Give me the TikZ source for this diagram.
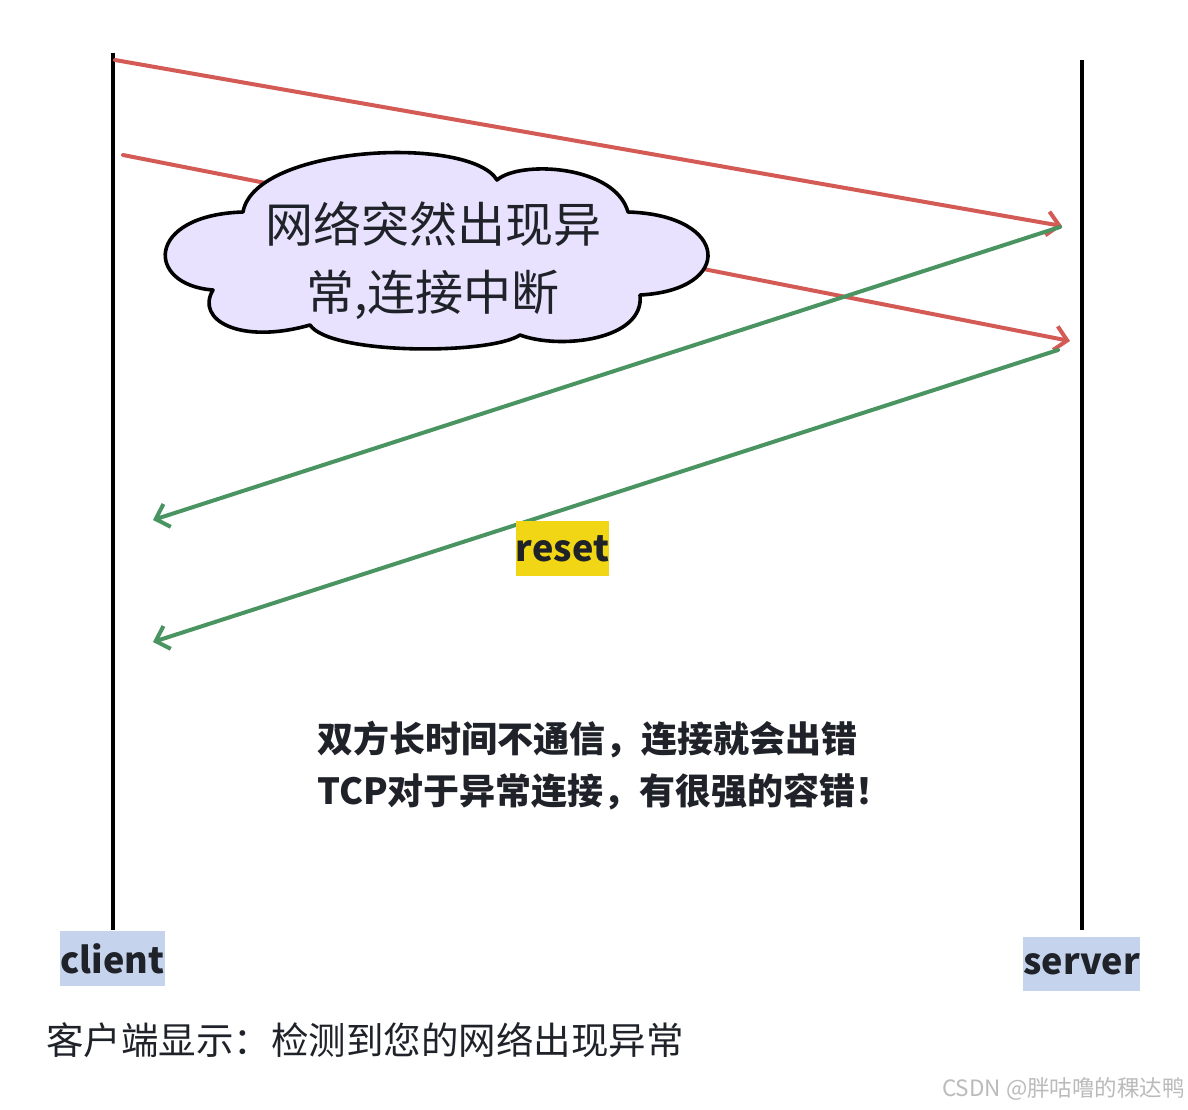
\documentclass[tikz,border=0pt]{standalone}
\usepackage{fontspec}
\setmainfont{Noto Sans CJK SC}
\usetikzlibrary{arrows.meta}
\definecolor{redln}{HTML}{D45A55}
\definecolor{greenln}{HTML}{4A9462}
\definecolor{cloudfill}{HTML}{E8E2FE}
\definecolor{yellowbg}{HTML}{F0D614}
\definecolor{bluebg}{HTML}{C5D3EC}
\definecolor{txt}{HTML}{1F2329}
\definecolor{wm}{HTML}{BBBBBB}
\begin{document}
\begin{tikzpicture}[x=1pt,y=-1pt,
  lifeline/.style={line width=4pt,black},
  msg/.style={line width=4pt,line cap=round,line join=round,-{Straight Barb[length=12pt,width=24pt]}},
  cloudshape/.style={line width=3.6pt,draw=black,fill=cloudfill,line join=round},
  lbl/.style={font=\bfseries\fontsize{36}{40}\selectfont,text=txt,inner sep=0pt},
]
\useasboundingbox[fill=white] (0,0) rectangle (1188,1109);

% lifelines
\coordinate (ctop) at (113,53);
\coordinate (cbot) at (113,930);
\coordinate (stop) at (1082,60);
\coordinate (sbot) at (1082,930);
\draw[lifeline] (ctop) -- (cbot);
\draw[lifeline] (stop) -- (sbot);

% message end points
\coordinate (r1s) at (115,60);
\coordinate (r1e) at (1062,226);
\coordinate (r2s) at (123,155);
\coordinate (r2e) at (1070,341);
\coordinate (g1s) at (1060,227);
\coordinate (g1e) at (153,520);
\coordinate (g2s) at (1058,350);
\coordinate (g2e) at (153,642);

\draw[msg,redln] (r1s) -- (r1e);
\draw[msg,redln] (r2s) -- (r2e);
\draw[msg,greenln] (g1s) -- (g1e);
\draw[msg,greenln] (g2s) -- (g2e);

% cloud
\draw[cloudshape] (243,212)
  .. controls (255,145) and (470,135) .. (497,180)
  .. controls (520,160) and (615,165) .. (628,212)
  .. controls (730,215) and (735,290) .. (640,295)
  .. controls (645,340) and (560,350) .. (520,335)
  .. controls (490,355) and (330,355) .. (310,325)
  .. controls (240,345) and (195,320) .. (213,290)
  .. controls (145,285) and (145,215) .. (243,212) -- cycle;
\node[font=\fontsize{48}{68}\selectfont,text=txt,align=center,inner sep=0pt] (cloudtxt) at (433,261) {网络突然出现异\\常,连接中断};

% reset label
\node[lbl,fill=yellowbg,minimum width=93pt,minimum height=55pt] (reset) at (562.5,548.5) {reset};

% notes
\node[font=\bfseries\fontsize{36}{52}\selectfont,text=txt,align=left,inner sep=0pt,anchor=west] (note) at (317,766) {双方长时间不通信，连接就会出错\\TCP对于异常连接，有很强的容错！};

% lifeline labels
\node[lbl,fill=bluebg,minimum width=105pt,minimum height=55pt] (client) at (112.5,958.5) {client};
\node[lbl,fill=bluebg,minimum width=117pt,minimum height=54pt] (server) at (1081.5,964) {server};

% bottom text
\node[font=\fontsize{37.5}{40}\selectfont,text=txt,inner sep=0pt,anchor=west] (status) at (46,1040) {客户端显示：检测到您的网络出现异常};

% watermark
\node[font=\fontsize{22.5}{24}\selectfont,text=wm,inner sep=0pt,anchor=east] (wmark) at (1185,1089) {CSDN @胖咕噜的稞达鸭};
\end{tikzpicture}
\end{document}
